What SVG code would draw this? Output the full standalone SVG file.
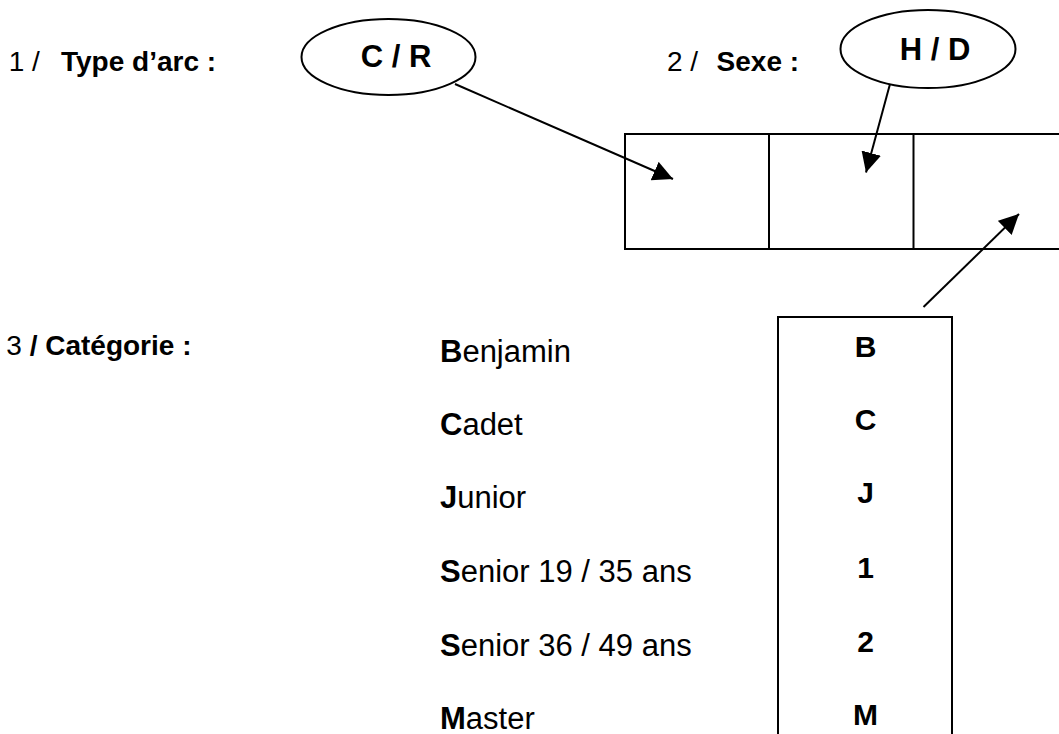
<svg xmlns="http://www.w3.org/2000/svg" width="1059" height="734" viewBox="0 0 1059 734">
<style>
text{font-family:"Liberation Sans",Arial,sans-serif;fill:#000}
.hd{font-size:28px}
.li{font-size:31px}
.lt{font-size:30px;font-weight:bold;text-anchor:middle}
.el{font-size:31px;font-weight:bold;text-anchor:middle}
.b{font-weight:bold}
.sh{fill:#fff;stroke:#000;stroke-width:2}
.cn{stroke:#000;stroke-width:2;fill:none}
</style>
<defs>
<marker id="ah" markerUnits="userSpaceOnUse" markerWidth="22" markerHeight="22" refX="20" refY="10" orient="auto" viewBox="0 0 22 22">
<path d="M0,0 L20,10 L0,20 z" fill="#000"/>
</marker>
</defs>
<rect width="1059" height="734" fill="#fff"/>
<g id="label-type">
<text class="hd" x="8.7" y="71">1 /</text>
<text class="hd b" x="61" y="71">Type d’arc :</text>
</g>
<g id="node-cr">
<ellipse class="sh" cx="388.5" cy="57" rx="87" ry="38"/>
<text class="el" x="396" y="67">C / R</text>
</g>
<g id="label-sexe">
<text class="hd" x="667" y="71">2 /</text>
<text class="hd b" x="716.6" y="71">Sexe :</text>
</g>
<g id="node-hd">
<ellipse class="sh" cx="928" cy="49" rx="87.5" ry="39"/>
<text class="el" x="935" y="60">H / D</text>
</g>
<g id="node-code">
<rect class="sh" x="625" y="134" width="440" height="115"/>
<line class="cn" x1="769" y1="134" x2="769" y2="249"/>
<line class="cn" x1="913.5" y1="134" x2="913.5" y2="249"/>
</g>
<g id="label-categorie">
<text class="hd" x="6.3" y="355">3<tspan class="b"> / Catégorie :</tspan></text>
</g>
<g id="category-list">
<text class="li" x="440" y="362"><tspan class="b">B</tspan>enjamin</text>
<text class="li" x="440" y="435"><tspan class="b">C</tspan>adet</text>
<text class="li" x="440" y="508"><tspan class="b">J</tspan>unior</text>
<text class="li" x="440" y="582"><tspan class="b">S</tspan>enior 19 / 35 ans</text>
<text class="li" x="440" y="656"><tspan class="b">S</tspan>enior 36 / 49 ans</text>
<text class="li" x="440" y="729"><tspan class="b">M</tspan>aster</text>
</g>
<g id="node-category-codes">
<rect class="sh" x="778" y="317" width="174" height="430"/>
<text class="lt" x="865.5" y="357">B</text>
<text class="lt" x="865.5" y="430">C</text>
<text class="lt" x="865.5" y="503">J</text>
<text class="lt" x="865.5" y="578">1</text>
<text class="lt" x="865.5" y="652">2</text>
<text class="lt" x="865.5" y="725">M</text>
</g>
<g id="connectors">
<line class="cn" x1="455" y1="84" x2="673" y2="179" marker-end="url(#ah)"/>
<line class="cn" x1="890" y1="84" x2="866" y2="172.5" marker-end="url(#ah)"/>
<line class="cn" x1="923.5" y1="307" x2="1019" y2="214" marker-end="url(#ah)"/>
</g>
</svg>
